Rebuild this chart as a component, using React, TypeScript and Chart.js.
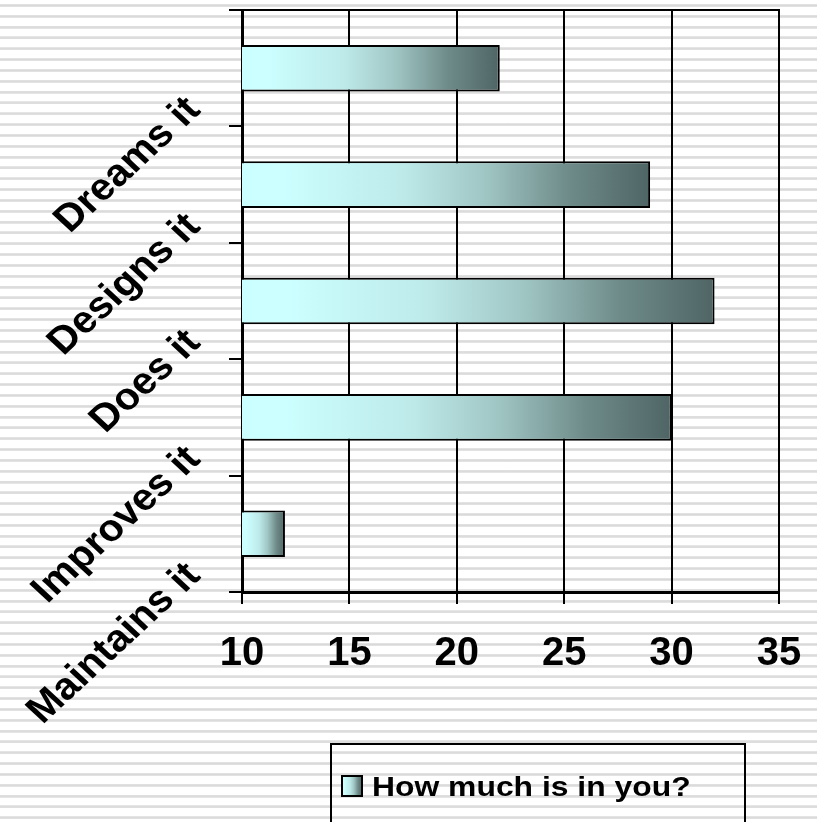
import React, { useEffect, useRef } from 'react';
import { Chart, registerables } from 'chart.js';

Chart.register(...registerables);

const categories = ['Dreams it', 'Designs it', 'Does it', 'Improves it', 'Maintains it'];
const values = [22, 29, 32, 30, 12];
const xTickValues = [10, 15, 20, 25, 30, 35];
const seriesName = 'How much is in you?';
const xMin = 10;
const xMax = 35;

const FONT = '"Liberation Sans", Arial, sans-serif';
const STRETCH = 1.18;
const LABEL_STRETCH = 1.08;

function makeGradient(ctx: CanvasRenderingContext2D, x0: number, x1: number) {
  const g = ctx.createLinearGradient(x0, 0, x1, 0);
  g.addColorStop(0, '#ccffff');
  g.addColorStop(0.1, '#ccffff');
  g.addColorStop(0.4, '#bde9e9');
  g.addColorStop(0.6, '#9fc5c3');
  g.addColorStop(0.8, '#6e8b89');
  g.addColorStop(1, '#4f6565');
  return g;
}

const decorPlugin = {
  id: 'decor',
  afterDraw(chart: any) {
    const ctx: CanvasRenderingContext2D = chart.ctx;
    const area = chart.chartArea;
    const ys = chart.scales.y;
    ctx.save();
    // plot area top and right border
    ctx.strokeStyle = '#000';
    ctx.lineWidth = 2;
    ctx.beginPath();
    ctx.moveTo(area.left - 13, area.top);
    ctx.lineTo(area.right, area.top);
    ctx.lineTo(area.right, area.bottom);
    ctx.stroke();

    // rotated category labels
    ctx.fillStyle = '#000';
    ctx.font = `bold 38px ${FONT}`;
    ctx.textAlign = 'right';
    ctx.textBaseline = 'middle';
    categories.forEach((label, i) => {
      const y = ys.getPixelForValue(i) + 36;
      ctx.save();
      ctx.translate(194, y);
      ctx.scale(LABEL_STRETCH, 1);
      ctx.rotate(-Math.PI / 4);
      ctx.fillText(label, 0, 0);
      ctx.restore();
    });

    // legend
    ctx.lineWidth = 2;
    ctx.strokeStyle = '#000';
    ctx.strokeRect(331, 744, 414, 120);
    ctx.fillStyle = makeGradient(ctx, 342, 362);
    ctx.fillRect(342, 776, 20, 20);
    ctx.strokeRect(342, 776, 20, 20);
    ctx.fillStyle = '#000';
    ctx.font = `bold 27px ${FONT}`;
    ctx.textAlign = 'left';
    ctx.textBaseline = 'alphabetic';
    ctx.translate(372, 796);
    ctx.scale(STRETCH, 1);
    ctx.fillText(seriesName, 0, 0);
    ctx.restore();
  },
};

export default function App() {
  const ref = useRef<HTMLCanvasElement | null>(null);

  useEffect(() => {
    if (!ref.current) return;
    const chart = new Chart(ref.current, {
      type: 'bar',
      data: {
        labels: categories,
        datasets: [
          {
            label: seriesName,
            data: values,
            borderColor: '#000',
            borderWidth: 2,
            borderSkipped: false,
            barPercentage: 0.4,
            categoryPercentage: 1,
            backgroundColor: (c: any) => {
              const ch = c.chart;
              const xs = ch.scales && ch.scales.x;
              if (!xs || c.type !== 'data' || !ch.chartArea) return '#ccffff';
              const x0 = xs.getPixelForValue(xMin);
              const x1 = xs.getPixelForValue(c.raw);
              return makeGradient(ch.ctx, x0, x1);
            },
          },
        ],
      },
      options: {
        indexAxis: 'y',
        responsive: false,
        animation: false,
        devicePixelRatio: 1,
        layout: { padding: { top: 10, right: 38, left: 0, bottom: 0 } },
        plugins: {
          legend: { display: false },
          tooltip: { enabled: false },
        },
        scales: {
          x: {
            type: 'linear',
            min: xMin,
            max: xMax,
            afterBuildTicks: (s: any) => {
              s.ticks = xTickValues.map((v) => ({ value: v }));
            },
            afterFit: (s: any) => {
              s.height = 230;
            },
            ticks: {
              color: '#000',
              padding: 2,
              font: { family: FONT, size: 40, weight: 'bold', lineHeight: 2.4 },
            },
            grid: { color: '#000', lineWidth: 2, tickLength: 12 },
            border: { color: '#000', width: 3 },
          },
          y: {
            type: 'category',
            offset: true,
            afterFit: (s: any) => {
              s.width = 242;
            },
            ticks: { display: false },
            grid: {
              offset: true,
              drawOnChartArea: false,
              color: '#000',
              lineWidth: 2,
              tickLength: 13,
            },
            border: { color: '#000', width: 3 },
          },
        },
      } as any,
      plugins: [decorPlugin],
    });
    return () => chart.destroy();
  }, []);

  return (
    <div
      style={{
        position: 'fixed',
        left: 0,
        top: 0,
        width: 817,
        height: 822,
        background:
          'repeating-linear-gradient(to bottom, #ffffff 0px, #ffffff 4px, #e6e6e6 4px, #d9d9d9 5.5px, #e6e6e6 7px, #ffffff 7px, #ffffff 10.83px)',
      }}
    >
      <canvas ref={ref} width={817} height={822} style={{ display: 'block' }} />
    </div>
  );
}
